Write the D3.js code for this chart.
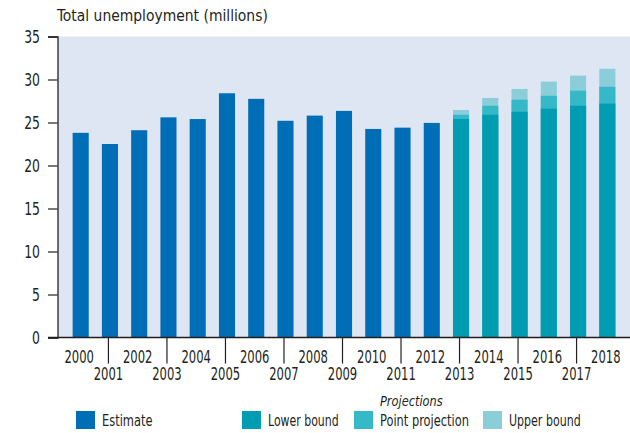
<!DOCTYPE html>
<html><head><meta charset="utf-8">
<script src="https://cdn.jsdelivr.net/npm/d3@7"></script>
<style>
body{margin:0;background:#fff;}
text{font-family:"DejaVu Sans Condensed","DejaVu Sans",sans-serif;fill:#231f20;}
</style></head>
<body><svg id="c" width="630" height="433"></svg>
<script>
const years = [2000,2001,2002,2003,2004,2005,2006,2007,2008,2009,2010,2011,2012,2013,2014,2015,2016,2017,2018];
const estimateYears = [2000,2001,2002,2003,2004,2005,2006,2007,2008,2009,2010,2011,2012];
const estimate = [23.8,22.5,24.1,25.6,25.4,28.4,27.75,25.2,25.8,26.35,24.25,24.4,24.95];
const projYears = [2013,2014,2015,2016,2017,2018];
const lowerBound = [25.4,25.9,26.25,26.6,26.95,27.2];
const pointProjection = [25.9,26.95,27.65,28.1,28.7,29.15];
const upperBound = [26.45,27.85,28.9,29.75,30.45,31.25];
const yTicks = [0,5,10,15,20,25,30,35];
const title = "Total unemployment (millions)";
const legendItems = [["Estimate","#006eb7"],["Lower bound","#009cb2"],["Point projection","#35b8c8"],["Upper bound","#8bcdd9"]];

const svg = d3.select("#c");
const x = d3.scaleBand().domain(years).range([58,630]).paddingInner(0.45).paddingOuter(0.5);
const y = d3.scaleLinear().domain([0,35]).range([337.5,36.5]);

// squeeze a text horizontally (about its anchor point) to the reference's condensed width
function fit(sel, w){
  sel.each(function(){
    const n = this.getComputedTextLength();
    const s = w / n;
    const x0 = +(this.getAttribute("x") || 0);
    this.setAttribute("transform", `translate(${x0},0) scale(${s},1) translate(${-x0},0)`);
  });
}

svg.append("rect").attr("x",58).attr("y",y(35)).attr("width",572).attr("height",y(0)-y(35)).attr("fill","#dfe6f3");

svg.append("text").attr("x",57).attr("y",21).attr("font-size",15.5).text(title).call(fit,211);

svg.append("g").selectAll("rect").data(estimateYears).join("rect")
  .attr("x",d=>x(d)).attr("width",x.bandwidth())
  .attr("y",(d,i)=>y(estimate[i])).attr("height",(d,i)=>y(0)-y(estimate[i]))
  .attr("fill",legendItems[0][1]);

[[upperBound,legendItems[3][1]],[pointProjection,legendItems[2][1]],[lowerBound,legendItems[1][1]]].forEach(([arr,col])=>{
  svg.append("g").selectAll("rect").data(projYears).join("rect")
    .attr("x",d=>x(d)).attr("width",x.bandwidth())
    .attr("y",(d,i)=>y(arr[i])).attr("height",(d,i)=>y(0)-y(arr[i]))
    .attr("fill",col);
});

// y axis
const ya = svg.append("g").attr("transform","translate(57.5,0)")
  .call(d3.axisLeft(y).tickValues(yTicks).tickSize(9.5).tickPadding(8));
ya.select(".domain").attr("stroke","#231f20").attr("stroke-width",1.3);
ya.selectAll(".tick line").attr("stroke","#231f20").attr("stroke-width",1.2);
ya.selectAll(".tick text").attr("font-size",18).attr("fill","#231f20")
  .each(function(d){ d3.select(this).call(fit, String(d).length*7.9); });

// x axis
const xa = svg.append("g").attr("transform","translate(0,337.5)")
  .call(d3.axisBottom(x).tickSize(0).tickSizeOuter(0));
xa.select(".domain").attr("d","M48,0H630").attr("stroke","#231f20").attr("stroke-width",1.3);
xa.selectAll(".tick").each(function(d){
  const g = d3.select(this);
  const odd = d % 2 === 1;
  g.attr("transform",`translate(${x(d)+x.bandwidth()/2-1.5},0)`);
  g.select("line").attr("y2",odd?26:0).attr("stroke","#231f20").attr("stroke-width",1.2);
  g.select("text").attr("x",0).attr("y",odd?42.5:25.5).attr("dy",0).attr("font-size",18).attr("fill","#231f20").call(fit,29.5);
});

// legend
const lg = svg.append("g");
const lx = [76,242,354,483];
const lw = [50.6,70.7,89,71.7];
legendItems.forEach(([name,col],i)=>{
  lg.append("rect").attr("x",lx[i]).attr("y",411).attr("width",19).attr("height",18).attr("fill",col);
  lg.append("text").attr("x",lx[i]+26).attr("y",426).attr("font-size",16).text(name).call(fit,lw[i]);
});
svg.append("text").attr("x",380).attr("y",406).attr("font-size",13.5).attr("font-style","italic").text("Projections").call(fit,62.7);
</script></body></html>
